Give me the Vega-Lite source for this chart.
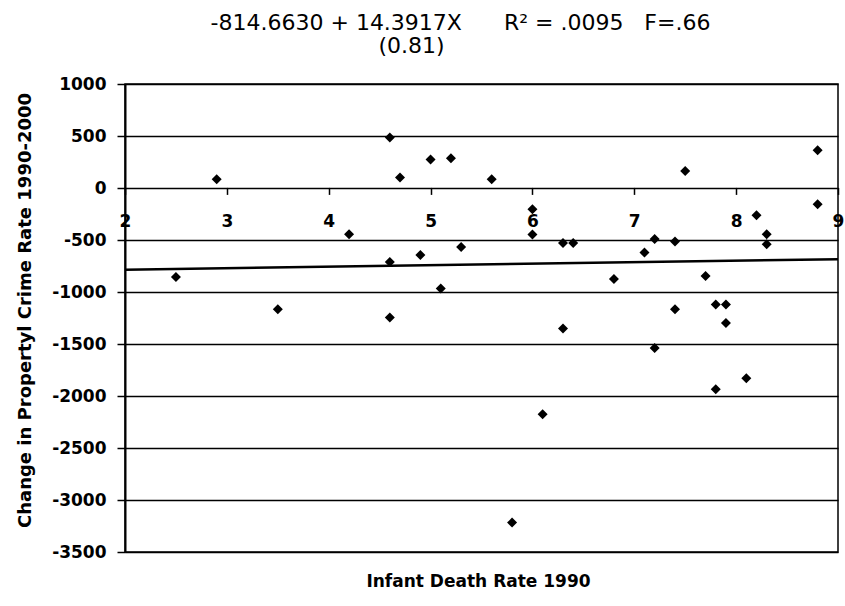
{
  "$schema": "https://vega.github.io/schema/vega-lite/v6.json",
  "width": 713,
  "height": 468,
  "autosize": {"type": "none"},
  "padding": {"left": 125, "top": 84, "right": 7, "bottom": 54},
  "background": "white",
  "datasets": {
    "points": [
      {"rate": 2.5, "change": -856},
      {"rate": 2.9, "change": 84},
      {"rate": 3.5, "change": -1166},
      {"rate": 4.2, "change": -445},
      {"rate": 4.6, "change": 485},
      {"rate": 4.6, "change": -711},
      {"rate": 4.6, "change": -1246},
      {"rate": 4.7, "change": 100},
      {"rate": 4.9, "change": -644},
      {"rate": 5.0, "change": 273},
      {"rate": 5.1, "change": -967},
      {"rate": 5.2, "change": 286},
      {"rate": 5.3, "change": -567},
      {"rate": 5.6, "change": 84},
      {"rate": 5.8, "change": -3217},
      {"rate": 6.0, "change": -205},
      {"rate": 6.0, "change": -448},
      {"rate": 6.1, "change": -2176},
      {"rate": 6.3, "change": -529},
      {"rate": 6.3, "change": -1352},
      {"rate": 6.4, "change": -529},
      {"rate": 6.8, "change": -875},
      {"rate": 7.1, "change": -621},
      {"rate": 7.2, "change": -490},
      {"rate": 7.2, "change": -1538},
      {"rate": 7.4, "change": -515},
      {"rate": 7.4, "change": -1166},
      {"rate": 7.5, "change": 164},
      {"rate": 7.7, "change": -846},
      {"rate": 7.8, "change": -1121},
      {"rate": 7.8, "change": -1936},
      {"rate": 7.9, "change": -1121},
      {"rate": 7.9, "change": -1298},
      {"rate": 8.1, "change": -1830},
      {"rate": 8.2, "change": -262},
      {"rate": 8.3, "change": -445},
      {"rate": 8.3, "change": -541},
      {"rate": 8.8, "change": 362},
      {"rate": 8.8, "change": -157}
    ],
    "fit": [
      {"rate": 2, "change": -786},
      {"rate": 9, "change": -685}
    ]
  },
  "title": {
    "text": ["-814.6630 + 14.3917X\u00a0\u00a0\u00a0\u00a0\u00a0\u00a0R² = .0095\u00a0\u00a0\u00a0F=.66", "(0.81)\u00a0\u00a0\u00a0\u00a0\u00a0\u00a0\u00a0\u00a0\u00a0\u00a0\u00a0\u00a0\u00a0\u00a0\u200b"],
    "font": "DejaVu Sans",
    "fontSize": 22,
    "fontWeight": "normal",
    "color": "black",
    "anchor": "middle",
    "frame": "group",
    "dx": -21,
    "offset": -5,
    "lineHeight": 23,
    "baseline": "bottom"
  },
  "config": {
    "view": {"stroke": "black", "strokeWidth": 1.5},
    "axis": {
      "labelFont": "DejaVu Sans",
      "labelFontSize": 17,
      "labelFontWeight": "bold",
      "labelColor": "black",
      "titleFont": "DejaVu Sans",
      "titleFontWeight": "bold",
      "titleColor": "black",
      "tickColor": "black",
      "tickWidth": 1.5,
      "domainColor": "black"
    }
  },
  "layer": [
    {
      "data": {"name": "points"},
      "mark": {"type": "point", "shape": "diamond", "filled": true, "color": "black", "size": 100, "opacity": 1},
      "encoding": {
        "x": {
          "field": "rate",
          "type": "quantitative",
          "scale": {"domain": [2, 9], "nice": false, "zero": false},
          "axis": {
            "values": [2, 3, 4, 5, 6, 7, 8, 9],
            "format": "d",
            "offset": -364.6,
            "grid": false,
            "domain": false,
            "tickSize": 7,
            "labelPadding": 19,
            "labelFlush": false,
            "labelOverlap": false,
            "labelBound": false,
            "title": "Infant Death Rate 1990",
            "titleFontSize": 17,
            "titleX": 353,
            "titleY": 399,
            "titleAlign": "center",
            "titleBaseline": "alphabetic"
          }
        },
        "y": {
          "field": "change",
          "type": "quantitative",
          "scale": {"domain": [-3500, 1000], "nice": false, "zero": false},
          "axis": {
            "values": [-3500, -3000, -2500, -2000, -1500, -1000, -500, 0, 500, 1000],
            "labelExpr": "toString(datum.value)",
            "grid": true,
            "gridColor": "black",
            "gridWidth": 1.3,
            "gridOpacity": 1,
            "domainWidth": 2,
            "tickSize": 8,
            "labelPadding": 11,
            "title": "Change in Propertyl Crime Rate 1990-2000",
            "titleFontSize": 18,
            "titleAngle": -90,
            "titleX": -95,
            "titleY": 226,
            "titleAlign": "center",
            "titleBaseline": "alphabetic"
          }
        }
      }
    },
    {
      "data": {"name": "fit"},
      "mark": {"type": "line", "color": "black", "strokeWidth": 2.5},
      "encoding": {
        "x": {"field": "rate", "type": "quantitative"},
        "y": {"field": "change", "type": "quantitative"}
      }
    }
  ]
}
